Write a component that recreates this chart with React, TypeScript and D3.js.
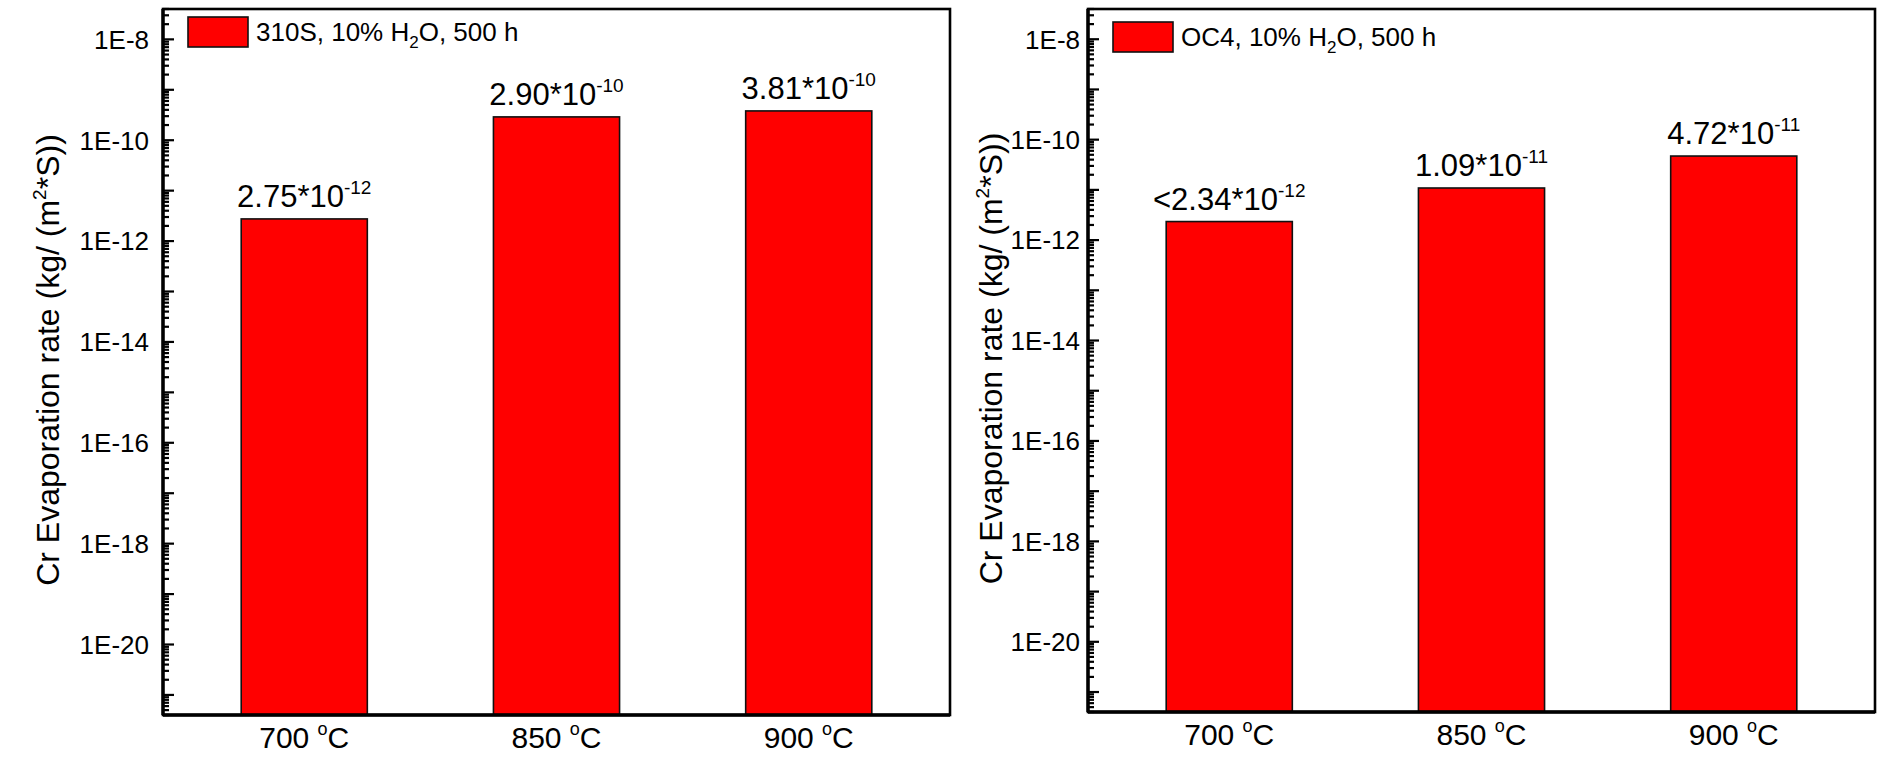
import React, { useEffect, useRef } from 'react';
import * as d3 from 'd3';

// data
const categories = ['700', '850', '900'];
const leftValues = [2.75e-12, 2.9e-10, 3.81e-10];
const rightValues = [2.34e-12, 1.09e-11, 4.72e-11];
const leftLabelBase = ['2.75*10', '2.90*10', '3.81*10'];
const leftLabelExp = ['-12', '-10', '-10'];
const rightLabelBase = ['<2.34*10', '1.09*10', '4.72*10'];
const rightLabelExp = ['-12', '-11', '-11'];
const leftLegend = ['310S, 10% H', '2', 'O, 500 h'];
const rightLegend = ['OC4, 10% H', '2', 'O, 500 h'];
const yTickExps = [-8, -10, -12, -14, -16, -18, -20];
const yDomain = [4e-22, 4e-8];

const FONT = '"Liberation Sans", Arial, sans-serif';

function App() {
  const ref = useRef(null);

  useEffect(() => {
    drawChart();
  }, []);

  function drawPanel(svg, p) {
    const width = 787;
    const height = p.height;

    const g = svg.append('g').attr('transform', `translate(${p.left},9)`);

    const xScale = d3.scaleLinear().domain([0.44, 3.56]).range([0, width]);
    const yScale = d3.scaleLog().domain(yDomain).range([height, 0]);
    const barW = xScale(1.5) - xScale(1);

    // bars
    g.selectAll('rect.bar')
      .data(p.values)
      .enter()
      .append('rect')
      .attr('class', 'bar')
      .attr('x', (d, i) => xScale(i + 1) - barW / 2)
      .attr('y', d => yScale(d))
      .attr('width', barW)
      .attr('height', d => height - yScale(d))
      .style('fill', '#ff0000')
      .style('stroke', '#111')
      .style('stroke-width', 1.6);

    // value labels on top of bars
    const vl = g.selectAll('text.vlabel')
      .data(p.values)
      .enter()
      .append('text')
      .attr('class', 'vlabel')
      .attr('x', (d, i) => xScale(i + 1))
      .attr('y', d => yScale(d) - 12)
      .attr('text-anchor', 'middle')
      .attr('font-family', FONT)
      .style('font-size', '31px');
    vl.append('tspan').text((d, i) => p.labelBase[i]);
    vl.append('tspan')
      .attr('dy', -13)
      .style('font-size', '19px')
      .text((d, i) => p.labelExp[i]);

    // minor + major ticks on the left axis (inward)
    const tickVals = [];
    for (let e = -22; e <= -8; e++) {
      for (let m = 1; m <= 9; m++) {
        const v = m * Math.pow(10, e);
        if (v >= yDomain[0] && v <= yDomain[1]) tickVals.push({ v, major: m === 1 });
      }
    }
    g.selectAll('line.ytick')
      .data(tickVals)
      .enter()
      .append('line')
      .attr('class', 'ytick')
      .attr('x1', 0)
      .attr('x2', d => (d.major ? 11 : 6))
      .attr('y1', d => yScale(d.v))
      .attr('y2', d => yScale(d.v))
      .style('stroke', '#000')
      .style('stroke-width', 2.2);

    // y tick labels
    g.selectAll('text.ylabel')
      .data(yTickExps)
      .enter()
      .append('text')
      .attr('class', 'ylabel')
      .attr('x', -p.labelGap)
      .attr('y', d => yScale(Math.pow(10, d)))
      .attr('dy', '0.36em')
      .attr('text-anchor', 'end')
      .attr('font-family', FONT)
      .style('font-size', '26px')
      .text(d => '1E' + d);

    // x category labels
    const xl = g.selectAll('text.xlabel')
      .data(categories)
      .enter()
      .append('text')
      .attr('class', 'xlabel')
      .attr('x', (d, i) => xScale(i + 1))
      .attr('y', height + 33)
      .attr('text-anchor', 'middle')
      .attr('font-family', FONT)
      .style('font-size', '30px');
    xl.append('tspan').text(d => d + ' ');
    xl.append('tspan').attr('dy', -13).style('font-size', '18px').text('o');
    xl.append('tspan').attr('dy', 13).text('C');

    // frame
    g.append('rect')
      .attr('x', 0)
      .attr('y', 0)
      .attr('width', width)
      .attr('height', height)
      .style('fill', 'none')
      .style('stroke', '#000')
      .style('stroke-width', 2.6);
    g.append('line')
      .attr('x1', 0).attr('x2', 0).attr('y1', 0).attr('y2', height)
      .style('stroke', '#000').style('stroke-width', 3.4);
    g.append('line')
      .attr('x1', 0).attr('x2', width).attr('y1', height).attr('y2', height)
      .style('stroke', '#000').style('stroke-width', 3.4);

    // legend
    g.append('rect')
      .attr('x', 25)
      .attr('y', p.legendY)
      .attr('width', 60)
      .attr('height', 30)
      .style('fill', '#ff0000')
      .style('stroke', '#111')
      .style('stroke-width', 1.6);
    const lt = g.append('text')
      .attr('x', 93)
      .attr('y', p.legendY + 24)
      .attr('font-family', FONT)
      .style('font-size', '26px');
    lt.append('tspan').text(p.legend[0]);
    lt.append('tspan').attr('dy', 7).style('font-size', '17px').text(p.legend[1]);
    lt.append('tspan').attr('dy', -7).text(p.legend[2]);

    // y axis title
    const yt = g.append('text')
      .attr('transform', `translate(${-p.titleOffset},${height / 2 - 2}) rotate(-90)`)
      .attr('text-anchor', 'middle')
      .attr('font-family', FONT)
      .style('font-size', '32px');
    yt.append('tspan').text('Cr Evaporation rate (kg/ (m');
    yt.append('tspan').attr('dy', -13).style('font-size', '19px').text('2');
    yt.append('tspan').attr('dy', 13).text('*S))');
  }

  function drawChart() {
    d3.select(ref.current).selectAll('*').remove();
    const svg = d3.select(ref.current);
    drawPanel(svg, {
      left: 163, height: 706, values: leftValues, labelBase: leftLabelBase,
      labelExp: leftLabelExp, legend: leftLegend, legendY: 8, labelGap: 14, titleOffset: 104
    });
    drawPanel(svg, {
      left: 1088, height: 703, values: rightValues, labelBase: rightLabelBase,
      labelExp: rightLabelExp, legend: rightLegend, legendY: 13, labelGap: 8, titleOffset: 86
    });
  }

  return (
    <svg
      ref={ref}
      width={1878}
      height={757}
      style={{ position: 'absolute', left: 0, top: 0, background: '#fff' }}
    />
  );
}

export default App;
